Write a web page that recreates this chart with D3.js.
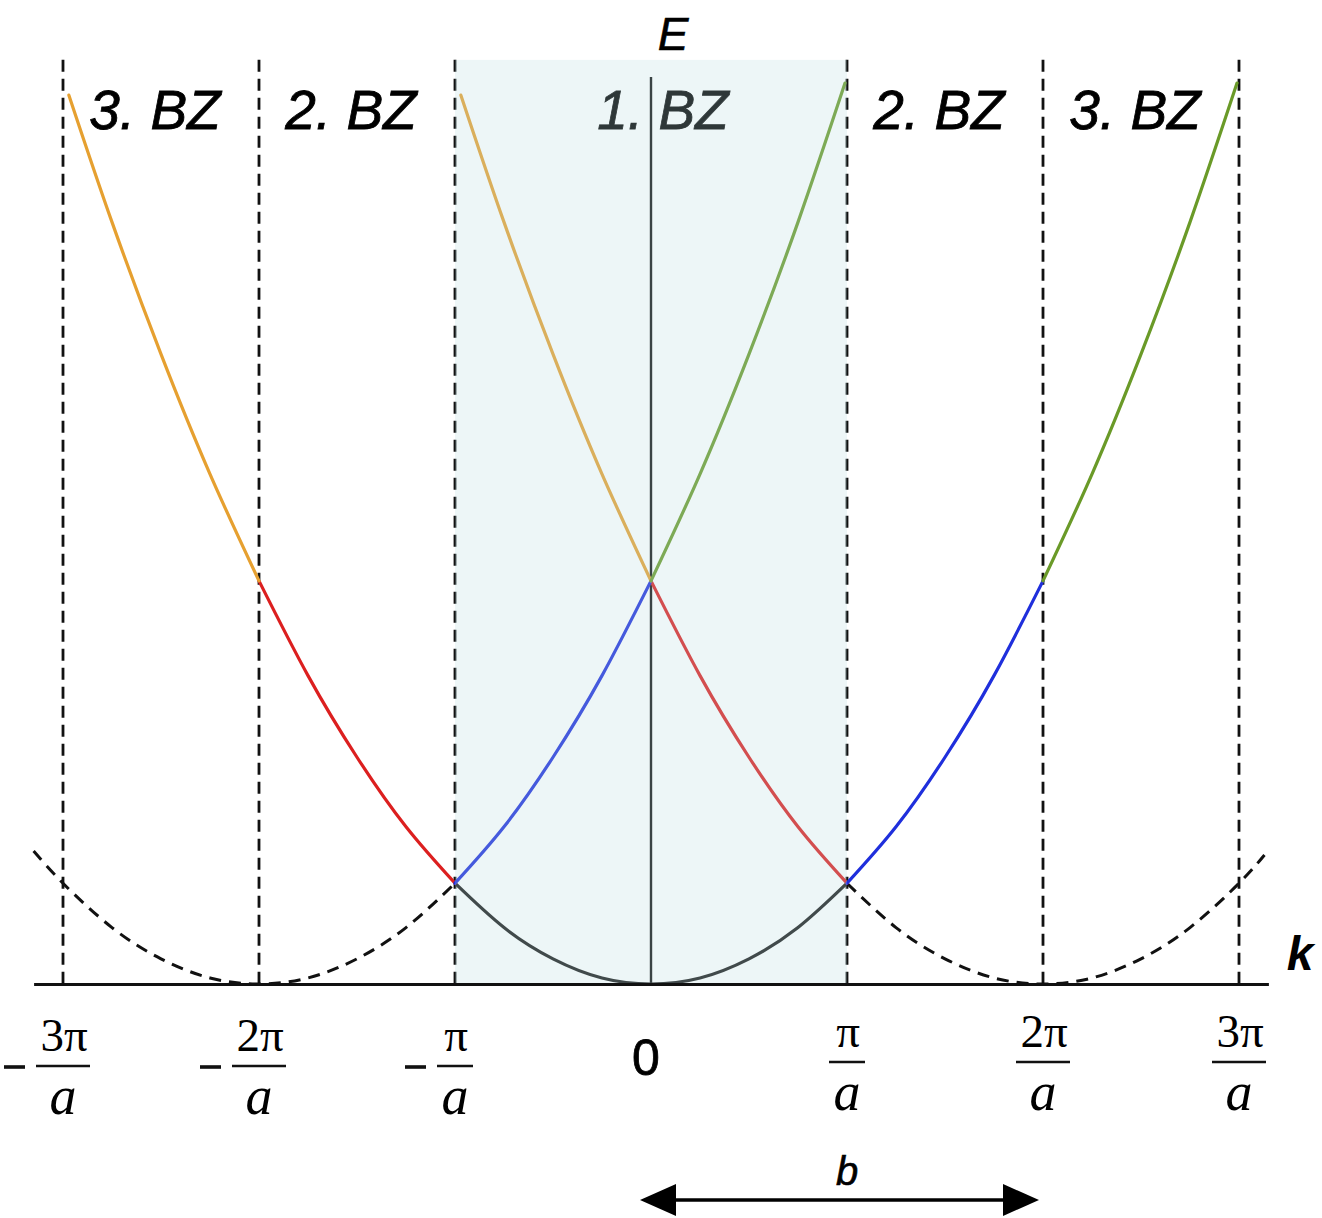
<!DOCTYPE html>
<html>
<head>
<meta charset="utf-8">
<script src="https://cdn.jsdelivr.net/npm/d3@7"></script>
<style>
  html, body { margin: 0; padding: 0; background: #fff; }
  svg { display: block; }
</style>
</head>
<body>
<svg id="chart" width="1322" height="1218"></svg>
<script>
// Free-electron dispersion E(k) in the extended and reduced zone schemes.
// k in units of pi/a, E in units of (hbar^2/2m)(pi/a)^2.

// Zone boundaries (dashed) and tick positions on the k axis
const zoneBoundaries = [-3, -2, -1, 1, 2, 3];
const tickValues = [-3, -2, -1, 0, 1, 2, 3];
const tickNumerators = ["3π", "2π", "π", "0", "π", "2π", "3π"];
const tickNegative = [true, true, true, false, false, false, false];

// Brillouin zone labels and the k ranges they sit in
const zoneNames = ["3. BZ", "2. BZ", "1. BZ", "2. BZ", "3. BZ"];
const zoneFrom = [-3, -2, -1, 1, 2];
const zoneTo = [-2, -1, 1, 2, 3];

// Branches as [k, E] pairs
const firstBand = [[-1, 1], [-0.75, 0.56], [-0.5, 0.25], [-0.25, 0.06], [0, 0], [0.25, 0.06], [0.5, 0.25], [0.75, 0.56], [1, 1]];
const ghostLeft = [[-3.15, 1.32], [-3, 1], [-2.75, 0.56], [-2.5, 0.25], [-2.25, 0.06], [-2, 0], [-1.75, 0.06], [-1.5, 0.25], [-1.25, 0.56], [-1, 1]];
const ghostRight = [[1, 1], [1.25, 0.56], [1.5, 0.25], [1.75, 0.06], [2, 0], [2.25, 0.06], [2.5, 0.25], [2.75, 0.56], [3, 1], [3.13, 1.28]];
const redOuter = [[-2, 4], [-1.75, 3.06], [-1.5, 2.25], [-1.25, 1.56], [-1, 1]];
const redInner = [[0, 4], [0.25, 3.06], [0.5, 2.25], [0.75, 1.56], [1, 1]];
const blueInner = [[-1, 1], [-0.75, 1.56], [-0.5, 2.25], [-0.25, 3.06], [0, 4]];
const blueOuter = [[1, 1], [1.25, 1.56], [1.5, 2.25], [1.75, 3.06], [2, 4]];
const yellowOuter = [[-2.97, 8.82], [-2.75, 7.56], [-2.5, 6.25], [-2.25, 5.06], [-2, 4]];
const yellowInner = [[-0.97, 8.82], [-0.75, 7.56], [-0.5, 6.25], [-0.25, 5.06], [0, 4]];
const greenInner = [[0, 4], [0.25, 5.06], [0.5, 6.25], [0.75, 7.56], [0.99, 8.94]];
const greenOuter = [[2, 4], [2.25, 5.06], [2.5, 6.25], [2.75, 7.56], [2.99, 8.94]];

const colors = {
  black: "#1a1a1a",
  red: "#dc1f1f",
  blue: "#1f2fdc",
  yellow: "#e6a030",
  green: "#6a9a28"
};

const sans = "Liberation Sans, Arial, sans-serif";
const serif = "Liberation Serif, Times New Roman, serif";

const svg = d3.select("#chart");
const x = d3.scaleLinear().domain([-3, 3]).range([63, 1239]);
const y = d3.scaleLinear().domain([0, 9]).range([984, 77]);
const frameTop = 9.17;

const line = d3.line()
  .x(d => x(d[0]))
  .y(d => y(d[1]))
  .curve(d3.curveNatural);

// Vertical dashed zone boundaries
svg.append("g").selectAll("line")
  .data(zoneBoundaries)
  .join("line")
  .attr("x1", d => x(d)).attr("x2", d => x(d))
  .attr("y1", y(frameTop)).attr("y2", y(0))
  .attr("stroke", "#111")
  .attr("stroke-width", 2.8)
  .attr("stroke-dasharray", "12,7");

// E axis
svg.append("line")
  .attr("x1", x(0)).attr("x2", x(0))
  .attr("y1", y(9)).attr("y2", y(0))
  .attr("stroke", "#111")
  .attr("stroke-width", 2.4);

// Dashed parabolas centred on +-2pi/a
svg.append("g").selectAll("path")
  .data([ghostLeft, ghostRight])
  .join("path")
  .attr("d", line)
  .attr("fill", "none")
  .attr("stroke", "#111")
  .attr("stroke-width", 3)
  .attr("stroke-dasharray", "12,8");

// Coloured branches
const branches = [
  [firstBand, colors.black],
  [redOuter, colors.red], [redInner, colors.red],
  [blueInner, colors.blue], [blueOuter, colors.blue],
  [yellowOuter, colors.yellow], [yellowInner, colors.yellow],
  [greenInner, colors.green], [greenOuter, colors.green]
];
svg.append("g").selectAll("path")
  .data(branches)
  .join("path")
  .attr("d", d => line(d[0]))
  .attr("fill", "none")
  .attr("stroke", d => d[1])
  .attr("stroke-width", 3.2)
  .attr("stroke-linecap", "round");

// Zone labels
svg.append("g").selectAll("text")
  .data(zoneNames)
  .join("text")
  .attr("x", (d, i) => x((zoneFrom[i] + zoneTo[i]) / 2) + (i === 2 ? 12 : -6))
  .attr("y", 129)
  .attr("text-anchor", "middle")
  .attr("font-family", sans)
  .attr("font-style", "italic")
  .attr("font-size", 55)
  .attr("fill", "#000")
  .attr("stroke", "#000")
  .attr("stroke-width", 0.8)
  .text(d => d);

// First Brillouin zone tint (translucent so the curves beneath show through lighter)
svg.append("rect")
  .attr("x", x(-1)).attr("y", y(frameTop))
  .attr("width", x(1) - x(-1))
  .attr("height", y(0) - y(frameTop))
  .attr("fill", "rgb(183,219,223)")
  .attr("fill-opacity", 0.25);

// k axis
const axisScale = x.copy().domain([-3.15, 3.15]).range([x(-3.15), x(3.15)]);
svg.append("g")
  .attr("transform", `translate(0,${y(0)})`)
  .call(d3.axisBottom(axisScale).tickValues([]).tickSizeOuter(0))
  .call(g => g.select(".domain").attr("stroke", "#111").attr("stroke-width", 2.8));

// Axis titles
svg.append("text")
  .attr("x", x(0) + 22).attr("y", 50)
  .attr("text-anchor", "middle")
  .attr("font-family", sans)
  .attr("font-style", "italic")
  .attr("font-size", 46)
  .attr("stroke", "#000").attr("stroke-width", 0.6)
  .text("E");

svg.append("text")
  .attr("x", 1300).attr("y", 970)
  .attr("text-anchor", "middle")
  .attr("font-family", sans)
  .attr("font-style", "italic")
  .attr("font-weight", "bold")
  .attr("font-size", 48)
  .text("k");

// Tick labels as fractions n·π / a
const ticks = svg.append("g").selectAll("g")
  .data(tickValues)
  .join("g")
  .attr("transform", d => `translate(${x(d)},0)`);

ticks.each(function (d, i) {
  const g = d3.select(this);
  const num = tickNumerators[i];
  if (d === 0) {
    g.append("text")
      .attr("x", -5).attr("y", 1075)
      .attr("text-anchor", "middle")
      .attr("font-family", sans)
      .attr("font-size", 50)
      .attr("stroke", "#000").attr("stroke-width", 0.8)
      .text(num);
    return;
  }
  const barW = num.length > 1 ? 54 : 36;
  const barY = tickNegative[i] ? 1066 : 1062;
  g.append("text")
    .attr("x", 1).attr("y", barY - 15)
    .attr("text-anchor", "middle")
    .attr("font-family", serif)
    .attr("font-size", 47)
    .text(num);
  g.append("line")
    .attr("x1", -barW / 2).attr("x2", barW / 2)
    .attr("y1", barY).attr("y2", barY)
    .attr("stroke", "#111").attr("stroke-width", 2.4);
  g.append("text")
    .attr("x", 0).attr("y", barY + 48)
    .attr("text-anchor", "middle")
    .attr("font-family", serif)
    .attr("font-style", "italic")
    .attr("font-size", 54)
    .text("a");
  if (tickNegative[i]) {
    g.append("line")
      .attr("x1", -barW / 2 - 32).attr("x2", -barW / 2 - 11)
      .attr("y1", barY + 1).attr("y2", barY + 1)
      .attr("stroke", "#111").attr("stroke-width", 3.6);
  }
});

// Reciprocal lattice vector b spanning 0 .. 2pi/a
const arrowY = 1200;
const ax0 = x(0) - 11, ax1 = x(2) - 4;
svg.append("line")
  .attr("x1", ax0 + 30).attr("x2", ax1 - 30)
  .attr("y1", arrowY).attr("y2", arrowY)
  .attr("stroke", "#000").attr("stroke-width", 3.4);
svg.append("path")
  .attr("d", `M${ax0},${arrowY} L${ax0 + 36},${arrowY - 16} L${ax0 + 36},${arrowY + 16} Z`)
  .attr("fill", "#000");
svg.append("path")
  .attr("d", `M${ax1},${arrowY} L${ax1 - 36},${arrowY - 16} L${ax1 - 36},${arrowY + 16} Z`)
  .attr("fill", "#000");
svg.append("text")
  .attr("x", x(1)).attr("y", 1185)
  .attr("text-anchor", "middle")
  .attr("font-family", sans)
  .attr("font-style", "italic")
  .attr("font-size", 40)
  .attr("stroke", "#000").attr("stroke-width", 0.6)
  .text("b");
</script>
</body>
</html>
